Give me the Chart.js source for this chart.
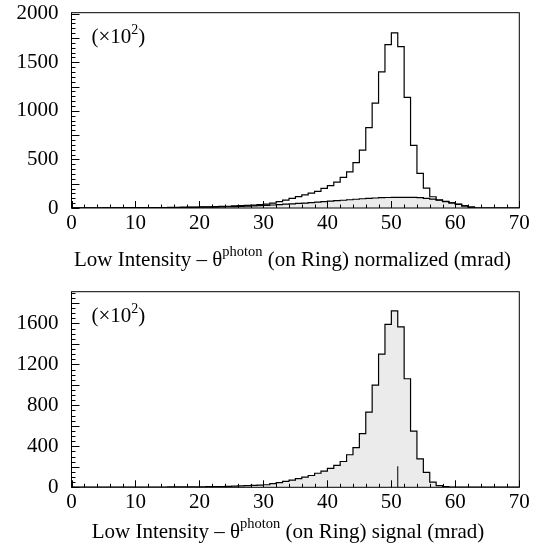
<!DOCTYPE html>
<html>
<head>
<meta charset="utf-8">
<script src="https://cdn.jsdelivr.net/npm/chart.js@4.4.0/dist/chart.umd.min.js"></script>
<style>
html, body { margin: 0; padding: 0; background: #fff; }
#wrap { position: relative; width: 539px; height: 550px; }
.panel { position: absolute; left: 0; width: 539px; height: 275px; }
</style>
</head>
<body>
<div id="wrap">
    <div class="panel" style="top:0"><canvas id="topChart" width="539" height="275"></canvas></div>
    <div class="panel" style="top:275px"><canvas id="bottomChart" width="539" height="275"></canvas></div>
</div>
<script>
// bin edges in mrad (1 mrad bins, 0..70)
var binEdges = [];
for (var e = 0; e <= 70; e++) binEdges.push(e);

var xTickLabels = [0, 10, 20, 30, 40, 50, 60, 70];
var topYTickLabels = [0, 500, 1000, 1500, 2000];
var bottomYTickLabels = [0, 400, 800, 1200, 1600];

// counts (x10^2) per bin
var topNormalized = [
    1, 1, 1, 1, 2, 2, 2, 2, 3, 3,
    3, 3, 4, 5, 5, 6, 7, 8, 9, 10,
    11, 12, 14, 16, 18, 21, 24, 26, 30, 35,
    40, 50, 65, 82, 100, 118, 136, 153, 172, 202,
    230, 266, 315, 372, 467, 595, 828, 1080, 1400, 1682,
    1802, 1660, 1138, 645, 356, 205, 116, 84, 68, 53,
    39, 22, 8, 0, 0, 0, 0, 0, 0, 0
];
var topBackground = [
    0, 0, 0, 0, 0, 1, 1, 1, 1, 2,
    2, 2, 3, 3, 4, 4, 5, 5, 6, 7,
    8, 9, 10, 11, 13, 15, 17, 19, 22, 25,
    28, 31, 35, 39, 43, 47, 51, 56, 60, 65,
    70, 75, 80, 85, 90, 95, 99, 103, 106, 108,
    110, 110, 110, 109, 106, 100, 92, 80, 66, 52,
    38, 22, 8, 0, 0, 0, 0, 0, 0, 0
];
var bottomSignal = [
    1, 1, 1, 1, 1, 1, 2, 2, 2, 2,
    2, 3, 3, 3, 3, 4, 4, 4, 5, 5,
    5, 6, 7, 8, 10, 12, 14, 16, 19, 22,
    25, 35, 45, 58, 70, 84, 100, 115, 137, 158,
    184, 215, 252, 318, 387, 525, 735, 997, 1300, 1590,
    1723, 1567, 1060, 549, 278, 145, 50, 16, 6, 3,
    2, 1, 1, 1, 1, 1, 1, 1, 1, 1
];
// small vertical marker inside the signal peak
var signalMarkerX = 51;
var signalMarkerY = 205;

var FONT = '"Liberation Serif", "Times New Roman", serif';

function toSteps(values) {
    var pts = [];
    for (var i = 0; i < values.length; i++) pts.push({ x: binEdges[i], y: values[i] });
    pts.push({ x: binEdges[values.length], y: values[values.length - 1] });
    return pts;
}

function drawRich(ctx, parts, x, y, align) {
    var total = 0;
    parts.forEach(function (p) {
        ctx.font = p.size + 'px ' + FONT;
        p.w = ctx.measureText(p.text).width;
        total += p.w;
    });
    var cx = align === 'center' ? x - total / 2 : x;
    parts.forEach(function (p) {
        ctx.font = p.size + 'px ' + FONT;
        ctx.fillText(p.text, cx, y - (p.rise || 0));
        cx += p.w;
    });
}

var rootFrame = {
    id: 'rootFrame',
    afterDatasetsDraw: function (chart, args, opts) {
        var ctx = chart.ctx, a = chart.chartArea;
        var xs = chart.scales.x, ys = chart.scales.y;
        ctx.save();
        ctx.strokeStyle = '#000';
        ctx.lineWidth = 1;
        ctx.strokeRect(a.left, a.top, a.right - a.left, a.bottom - a.top);
        ctx.beginPath();
        for (var v = 0; v <= 70; v += 2) {
            var px = Math.round(xs.getPixelForValue(v)) + 0.5;
            var len = v % 10 === 0 ? 7 : 3.5;
            ctx.moveTo(px, a.bottom);
            ctx.lineTo(px, a.bottom - len);
        }
        for (var w = 0; w <= ys.max; w += opts.yMinor) {
            var py = Math.round(ys.getPixelForValue(w)) + 0.5;
            var l = w % opts.yMajor === 0 ? 8 : 4;
            ctx.moveTo(a.left, py);
            ctx.lineTo(a.left + l, py);
        }
        ctx.stroke();

        ctx.fillStyle = '#000';
        ctx.textBaseline = 'alphabetic';
        drawRich(ctx, [
            { text: '(\u00d710', size: 21 },
            { text: '2', size: 14, rise: 9 },
            { text: ')', size: 21 }
        ], a.left + 20, a.top + 30, 'left');

        drawRich(ctx, [
            { text: 'Low Intensity \u2013 \u03b8', size: 21 },
            { text: 'photon', size: 14.5, rise: 10 },
            { text: ' (on Ring) ' + opts.word + ' (mrad)', size: 21 }
        ], opts.titleX, opts.titleY, 'center');
        ctx.restore();
    }
};

function makePanel(id, datasets, yMax, yTicks, frameOpts, top, xAxisHeight) {
    var ctx = document.getElementById(id).getContext('2d');
    return new Chart(ctx, {
        type: 'line',
        data: { datasets: datasets },
        plugins: [rootFrame],
        options: {
            responsive: false,
            animation: false,
            events: [],
            layout: { padding: { left: 0, right: 19.7, top: top, bottom: 0 } },
            plugins: {
                legend: { display: false },
                tooltip: { enabled: false },
                rootFrame: frameOpts
            },
            scales: {
                x: {
                    type: 'linear',
                    min: 0,
                    max: 70,
                    grid: { display: false, drawTicks: false },
                    border: { display: false },
                    afterBuildTicks: function (scale) {
                        scale.ticks = xTickLabels.map(function (v) { return { value: v }; });
                    },
                    afterFit: function (scale) {
                        scale.height = xAxisHeight;
                        scale.paddingLeft = 0;
                        scale.paddingRight = 0;
                    },
                    ticks: {
                        color: '#000',
                        padding: 3,
                        maxRotation: 0,
                        autoSkip: false,
                        font: { family: FONT, size: 21, lineHeight: 1.2 },
                        callback: function (value) { return String(value); }
                    }
                },
                y: {
                    type: 'linear',
                    min: 0,
                    max: yMax,
                    grid: { display: false, drawTicks: false },
                    border: { display: false },
                    afterBuildTicks: function (scale) {
                        scale.ticks = yTicks.map(function (v) { return { value: v }; });
                    },
                    afterFit: function (scale) {
                        scale.width = 71.5;
                        scale.paddingTop = 0;
                        scale.paddingBottom = 0;
                    },
                    ticks: {
                        color: '#000',
                        padding: 13,
                        autoSkip: false,
                        font: { family: FONT, size: 21 },
                        callback: function (value) { return String(value); }
                    }
                }
            }
        }
    });
}

var histStyle = {
    borderColor: '#000',
    borderWidth: 1.2,
    pointRadius: 0,
    stepped: true,
    tension: 0
};

makePanel('topChart', [
    Object.assign({ label: 'normalized', data: toSteps(topNormalized), fill: false }, histStyle),
    Object.assign({ label: 'background', data: toSteps(topBackground), fill: 'origin', backgroundColor: '#ebebeb' }, histStyle)
], 2010, topYTickLabels,
    { yMinor: 50, yMajor: 250, word: 'normalized', titleX: 292.5, titleY: 266 },
    12.7, 67);

makePanel('bottomChart', [
    {
        label: 'marker', data: [{ x: signalMarkerX, y: 0 }, { x: signalMarkerX, y: signalMarkerY }],
        borderColor: '#000', borderWidth: 1, pointRadius: 0, fill: false
    },
    Object.assign({ label: 'signal', data: toSteps(bottomSignal), fill: 'origin', backgroundColor: '#ebebeb' }, histStyle)
], 1910, bottomYTickLabels,
    { yMinor: 50, yMajor: 200, word: 'signal', titleX: 288, titleY: 263 },
    16.7, 62.7);
</script>
</body>
</html>
